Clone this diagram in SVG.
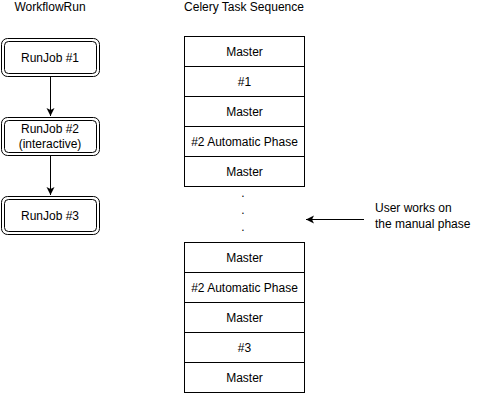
<svg xmlns="http://www.w3.org/2000/svg" width="485" height="397" viewBox="0 0 485 397">
<style>
text{font-family:"Liberation Sans",Arial,sans-serif;font-size:12px;fill:#000;text-anchor:middle}
.cell{fill:#fff;stroke:#000;stroke-width:1}
.job{fill:#fff;stroke:#000;stroke-width:1}
.ln{stroke:#000;stroke-width:1;fill:none}
</style>
<defs>
<marker id="ah" markerWidth="10" markerHeight="10" refX="8" refY="4" orient="auto" markerUnits="userSpaceOnUse">
<path d="M0,0 L8,4 L0,8 L2,4 Z" fill="#000"/>
</marker>
</defs>
<rect width="485" height="397" fill="#fff"/>
<text x="50" y="11">WorkflowRun</text>
<text x="244" y="11">Celery Task Sequence</text>
<g id="job1">
<rect class="job" x="1.5" y="38.5" width="98" height="38" rx="6"/>
<rect class="job" x="4.5" y="41.5" width="92" height="32" rx="4"/>
<text x="50" y="61.5">RunJob #1</text>
</g>
<g id="job2">
<rect class="job" x="1.5" y="117.5" width="98" height="38" rx="6"/>
<rect class="job" x="4.5" y="120.5" width="92" height="32" rx="4"/>
<text x="50" y="133">RunJob #2</text>
<text x="50" y="148">(interactive)</text>
</g>
<g id="job3">
<rect class="job" x="1.5" y="196.5" width="98" height="38" rx="6"/>
<rect class="job" x="4.5" y="199.5" width="92" height="32" rx="4"/>
<text x="50" y="219.5">RunJob #3</text>
</g>
<g id="stack1">
<rect class="cell" x="184.5" y="36.5" width="120" height="30"/>
<text x="244.5" y="55.5">Master</text>
<rect class="cell" x="184.5" y="66.5" width="120" height="30"/>
<text x="244.5" y="85.5">#1</text>
<rect class="cell" x="184.5" y="96.5" width="120" height="30"/>
<text x="244.5" y="115.5">Master</text>
<rect class="cell" x="184.5" y="126.5" width="120" height="30"/>
<text x="244.5" y="145.5">#2 Automatic Phase</text>
<rect class="cell" x="184.5" y="156.5" width="120" height="30"/>
<text x="244.5" y="175.5">Master</text>
</g>
<g id="dots">
<text x="243" y="197">.</text>
<text x="243" y="214">.</text>
<text x="243" y="231">.</text>
</g>
<g id="stack2">
<rect class="cell" x="184.5" y="242.5" width="120" height="30"/>
<text x="244.5" y="261.5">Master</text>
<rect class="cell" x="184.5" y="272.5" width="120" height="30"/>
<text x="244.5" y="291.5">#2 Automatic Phase</text>
<rect class="cell" x="184.5" y="302.5" width="120" height="30"/>
<text x="244.5" y="321.5">Master</text>
<rect class="cell" x="184.5" y="332.5" width="120" height="30"/>
<text x="244.5" y="351.5">#3</text>
<rect class="cell" x="184.5" y="362.5" width="120" height="30"/>
<text x="244.5" y="381.5">Master</text>
</g>
<g id="note">
<text x="375" y="212" style="text-anchor:start">User works on</text>
<text x="375" y="228" style="text-anchor:start">the manual phase</text>
</g>
<g id="connectors">
<line class="ln" x1="50.5" y1="76.5" x2="50.5" y2="116" marker-end="url(#ah)"/>
<line class="ln" x1="50.5" y1="155.5" x2="50.5" y2="195" marker-end="url(#ah)"/>
<line class="ln" x1="364" y1="219.5" x2="306" y2="219.5" marker-end="url(#ah)"/>
</g>
</svg>
